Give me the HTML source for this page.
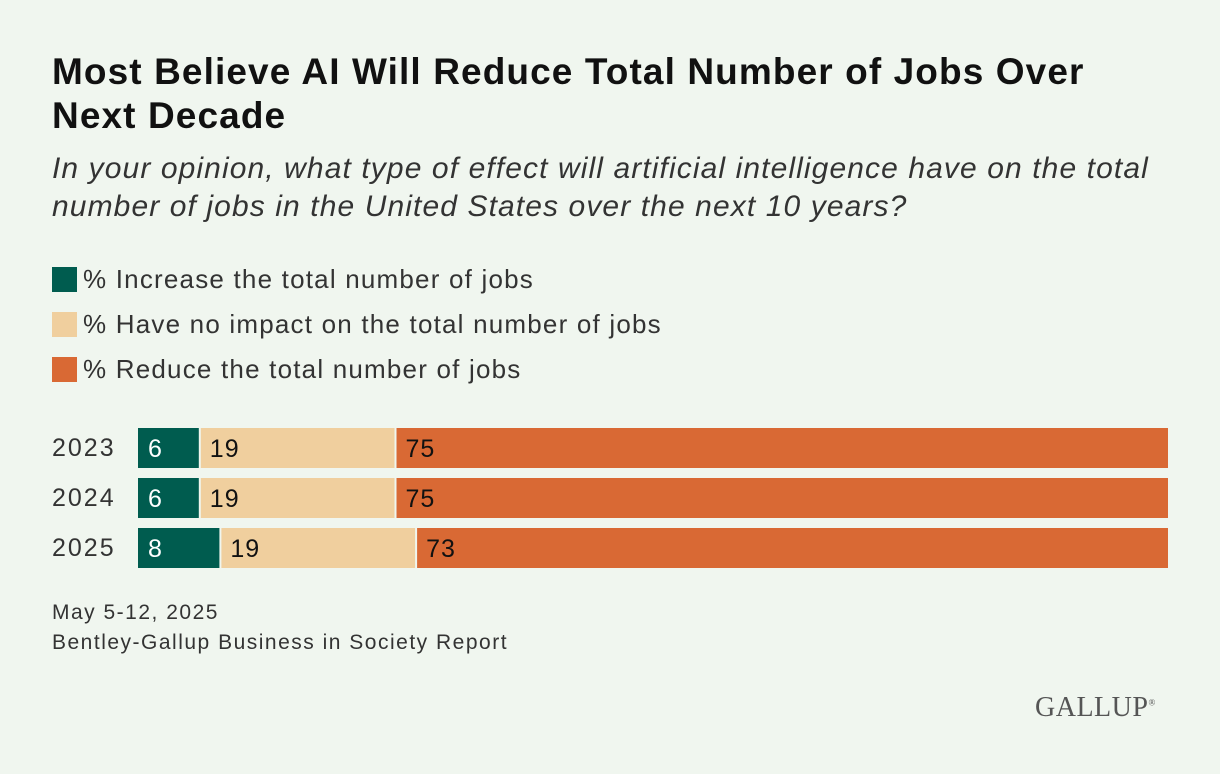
<!DOCTYPE html>
<html><head><meta charset="utf-8"><style>
body{margin:0;background:#f0f6ef;width:1220px;height:774px;overflow:hidden;font-family:"Liberation Sans",sans-serif;color:#222;position:relative}
.t{position:absolute;left:52px;top:50px;font-size:37px;font-weight:bold;line-height:44px;width:1065px;color:#111;letter-spacing:1.1px}
.s{position:absolute;left:52px;top:150px;font-size:30px;font-style:italic;line-height:38px;color:#333;width:1140px;letter-spacing:1.1px}
.lg{position:absolute;left:52px;font-size:26px;color:#333;letter-spacing:1.2px}
.lg span{display:inline-block;width:25px;height:25px;vertical-align:-4px;margin-right:6px}
.f{position:absolute;left:52px;font-size:21px;color:#333;letter-spacing:1.5px}
.logo{position:absolute;left:1035px;top:692px;font-family:"Liberation Serif",serif;font-size:28px;color:#555;letter-spacing:0.5px}
</style></head><body>
<div class="t">Most Believe AI Will Reduce Total Number of Jobs Over Next Decade</div>
<div class="s">In your opinion, what type of effect will artificial intelligence have on the total number of jobs in the United States over the next 10 years?</div>
<div class="lg" style="top:264px"><span style="background:#005c4f"></span>% Increase the total number of jobs</div>
<div class="lg" style="top:309px"><span style="background:#f0cf9e"></span>% Have no impact on the total number of jobs</div>
<div class="lg" style="top:354px"><span style="background:#d96934"></span>% Reduce the total number of jobs</div>
<svg id="chart" width="1220" height="774" style="position:absolute;left:0;top:0"></svg>
<div class="f" style="top:601px">May 5-12, 2025</div>
<div class="f" style="top:631px">Bentley-Gallup Business in Society Report</div>
<div class="logo">GALLUP<sup style="font-size:9px">®</sup></div>
<script>
const years=["2023","2024","2025"];
const increase=[6,6,8];
const noImpact=[19,19,19];
const reduce=[75,75,73];
const colors=["#005c4f","#f0cf9e","#d96934"];
const textColors=["#fff","#111","#111"];
const x0=138,W=1030,y0=428,rowH=50,barH=40;
const xs=v=>v/100*W;
const svg=document.getElementById('chart');
const NS="http://www.w3.org/2000/svg";
years.forEach((yr,i)=>{
  const y=y0+i*rowH;
  const lab=document.createElementNS(NS,'text');
  
  
  lab.setAttribute('x',52);lab.setAttribute('y',y+28);
  lab.setAttribute('font-size','25');lab.setAttribute('fill','#333');
  lab.setAttribute('letter-spacing','2');
  lab.setAttribute('font-family','Liberation Sans, sans-serif');
  lab.textContent=yr;svg.appendChild(lab);
  const vals=[increase[i],noImpact[i],reduce[i]];
  let cum=0;
  vals.forEach((v,j)=>{
    const x=x0+xs(cum);
    const r=document.createElementNS(NS,'rect');
    
    
    r.setAttribute('x',x+(j?1:0));r.setAttribute('y',y);
    r.setAttribute('width',xs(v)-(j?1:0)-(j<2?1:0));r.setAttribute('height',barH);
    r.setAttribute('fill',colors[j]);svg.appendChild(r);
    const t=document.createElementNS(NS,'text');
    
    
    t.setAttribute('x',x+10);t.setAttribute('y',y+29);
    t.setAttribute('font-size','25');t.setAttribute('fill',textColors[j]);
    t.setAttribute('letter-spacing','1');
    t.setAttribute('font-family','Liberation Sans, sans-serif');
    t.textContent=v;svg.appendChild(t);
    cum+=v;
  });
});
</script>
</body></html>
